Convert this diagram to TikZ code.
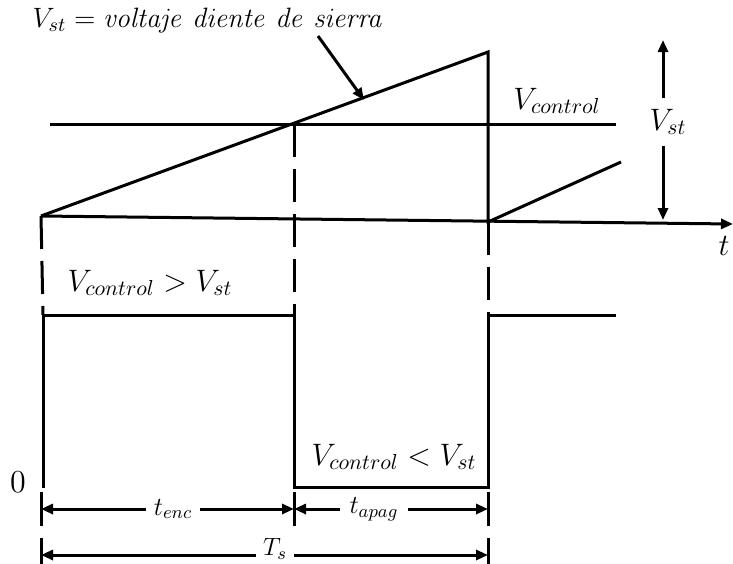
\RequirePackage{fix-cm}
\documentclass[tikz,border=0pt]{standalone}
\usepackage{amsmath}
\usetikzlibrary{arrows.meta}

\begin{document}
\begin{tikzpicture}[x=0.5pt, y=-0.5pt, line width=1.5pt, >={Triangle[length=6pt, width=5pt]},
  cut/.style={dash pattern=on 16.5pt off 6pt},
  lbl/.style={font=\fontsize{15.5}{18}\selectfont, inner sep=2pt},
  dimlbl/.style={font=\fontsize{13}{15}\selectfont, inner sep=3pt}]
  \useasboundingbox (0,0) rectangle (733,563);

  % sawtooth and control level
  \coordinate (S0) at (41,216);
  \coordinate (P1) at (488,52);
  \coordinate (S1) at (488,222);
  \coordinate (R1) at (621,162);
  \coordinate (X) at (294,124);
  \coordinate (C0) at (50,124);
  \coordinate (C1) at (616,124);
  \coordinate (T1) at (733,224);

  \draw (S0) -- (P1) -- (S1) -- (R1);
  \draw (C0) -- (C1);
  \draw[->] (S0) -- (T1);
  \node[lbl] (tax) at (724,246) {$t$};

  \node[lbl, font=\fontsize{14}{17}\selectfont] (title) at (208,20) {$V_{st} = \mathit{voltaje\ diente\ de\ sierra}$};
  \coordinate (A0) at (318,36);
  \coordinate (A1) at (364,100);
  \draw[->] (A0) -- (A1);

  \node[lbl] (vctl) at (557,101) {$V_{control}$};

  \coordinate (V0) at (663,40);
  \coordinate (V1) at (663,220);
  \node[lbl, inner sep=5pt] (vst) at (668,122) {$V_{st}$};
  \draw[->] (vst.north -| V0) -- (V0);
  \draw[->] (vst.south -| V1) -- (V1);

  % switching pulse
  \coordinate (Q0) at (43,488);
  \coordinate (Q1) at (43,315);
  \coordinate (Q2) at (294,315);
  \coordinate (Q3) at (294,487);
  \coordinate (Q4) at (488,487);
  \coordinate (Q5) at (488,315);
  \coordinate (Q6) at (616,315);
  \draw (Q0) -- (Q1) -- (Q2) -- (Q3) -- (Q4) -- (Q5) -- (Q6);

  \draw[cut] (S0) -- (Q1);
  \draw[cut] (X) -- (Q2);
  \draw[cut] (S1) -- (Q5);

  \node[lbl] (gt) at (150,283) {$V_{control} > V_{st}$};
  \node[lbl] (lt) at (394,457) {$V_{control} < V_{st}$};
  \node[lbl, font=\fontsize{16}{18}\selectfont] (zero) at (18,482) {$0$};

  % time intervals
  \foreach \x/\n in {41/a, 294/b, 488/c}
    \draw (\x,492) coordinate (\n0) -- (\x,526) coordinate (\n1);
  \foreach \x/\n in {41/d, 488/e}
    \draw (\x,538) coordinate (\n0) -- (\x,565) coordinate (\n1);

  \node[dimlbl] (tenc) at (173,509) {$t_{enc}$};
  \node[dimlbl, inner sep=4pt] (tapag) at (374,509) {$t_{apag}$};
  \node[dimlbl, font=\fontsize{12.5}{14}\selectfont] (ts) at (275,549) {$T_s$};

  \draw[->] (tenc) -- (41,509);
  \draw[->] (tenc) -- (294,509);
  \draw[->] (tapag) -- (294,509);
  \draw[->] (tapag) -- (488,509);
  \draw[->] (ts.south west |- 0,555) -- (41,555);
  \draw[->] (ts.south east |- 0,555) -- (488,555);
\end{tikzpicture}
\end{document}
